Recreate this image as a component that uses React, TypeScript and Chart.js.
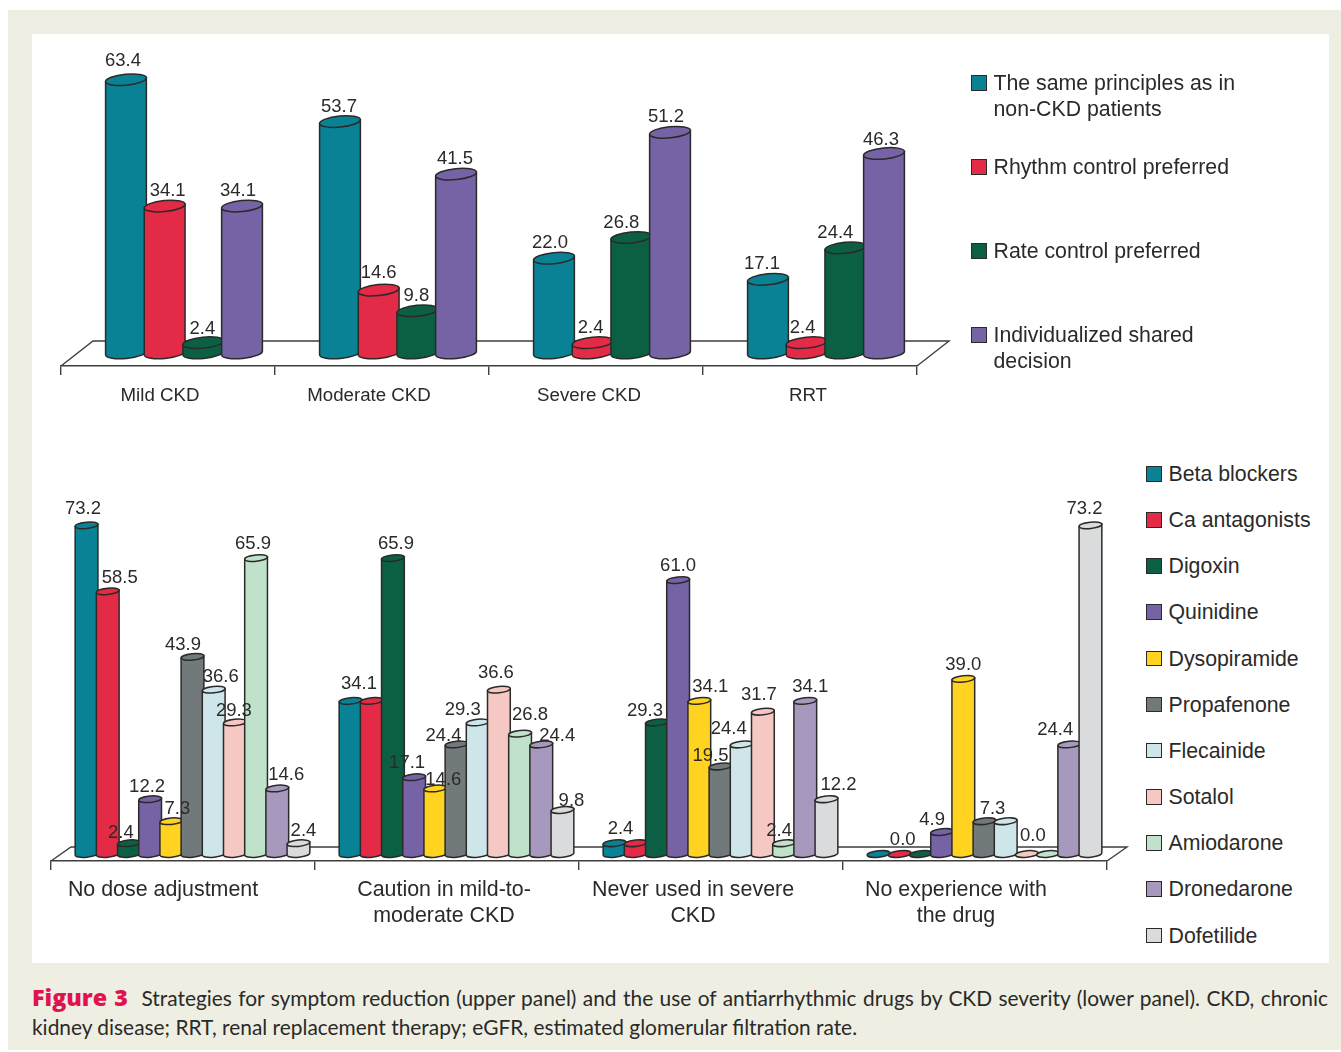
import React, { useEffect, useRef } from "react";
import { Chart, registerables } from "chart.js";

Chart.register(...registerables);

// ---- Strategies panel ----
const severityGroups = ["Mild CKD", "Moderate CKD", "Severe CKD", "RRT"];
const samePrinciples = [63.4, 53.7, 22.0, 17.1];
const rhythmControl = [34.1, 14.6, 2.4, 2.4];
const rateControl = [2.4, 9.8, 26.8, 24.4];
const sharedDecision = [34.1, 41.5, 51.2, 46.3];

// ---- Antiarrhythmic drugs panel ----
const usageGroups = ["No dose adjustment", "Caution in mild-to-moderate CKD", "Never used in severe CKD", "No experience with the drug"];
const betaBlockers = [73.2, 34.1, 2.4, 0.0];
const caAntagonists = [58.5, 34.1, 2.4, 0.0];
const digoxin = [2.4, 65.9, 29.3, 0.0];
const quinidine = [12.2, 17.1, 61.0, 4.9];
const dysopiramide = [7.3, 14.6, 34.1, 39.0];
const propafenone = [43.9, 24.4, 19.5, 7.3];
const flecainide = [36.6, 29.3, 24.4, 7.3];
const sotalol = [29.3, 36.6, 31.7, 0.0];
const amiodarone = [65.9, 26.8, 2.4, 0.0];
const dronedarone = [14.6, 24.4, 34.1, 24.4];
const dofetilide = [2.4, 9.8, 12.2, 73.2];

const TEAL = "#0a8296";
const RED = "#e32a46";
const GREEN = "#0b6044";
const PURPLE = "#7563a5";
const INK = "#2b2a29";
const TEXT_FONT = '"Liberation Sans", Arial, sans-serif';

const upperSeries = [
  { name: ["The same principles as in", "non-CKD patients"], data: samePrinciples, color: TEAL },
  { name: ["Rhythm control preferred"], data: rhythmControl, color: RED },
  { name: ["Rate control preferred"], data: rateControl, color: GREEN },
  { name: ["Individualized shared", "decision"], data: sharedDecision, color: PURPLE },
];

const lowerSeries = [
  { name: ["Beta blockers"], data: betaBlockers, color: TEAL },
  { name: ["Ca antagonists"], data: caAntagonists, color: RED },
  { name: ["Digoxin"], data: digoxin, color: GREEN },
  { name: ["Quinidine"], data: quinidine, color: PURPLE },
  { name: ["Dysopiramide"], data: dysopiramide, color: "#ffd320" },
  { name: ["Propafenone"], data: propafenone, color: "#72797b" },
  { name: ["Flecainide"], data: flecainide, color: "#cee6ea" },
  { name: ["Sotalol"], data: sotalol, color: "#f6c8c3" },
  { name: ["Amiodarone"], data: amiodarone, color: "#c0e2cb" },
  { name: ["Dronedarone"], data: dronedarone, color: "#a799bd" },
  { name: ["Dofetilide"], data: dofetilide, color: "#dadbdd" },
];

// Hand placement of the value labels relative to the top of each cylinder,
// indexed [series][group]; null leaves a label out where two would coincide.
type Nudge = [number, number] | null;
const upperNudges: Nudge[][] = [
  [[-3, -19], [-1, -15], [-4, -15], [-6, -15]],
  [[3, -15], [0, -17], [-2, -15], [-4, -15]],
  [[-1, -14], [-1, -15], [-10, -15], [-10, -15]],
  [[-4, -15], [-1, -15], [-4, -15], [-3, -14]],
];
const lowerNudges: Nudge[][] = [
  [[-3.5, -16], [8.5, -17], [6, -14], null],
  [[12, -13], null, null, [3, -14]],
  [[-8, -10], [3, -14], [-12, -12], null],
  [[-3, -12], [-7, -14], [0, -14], [-10, -12]],
  [[6, -12], [8, -9], [11, -14], [0, -14]],
  [[-9.5, -12], [-13, -9], [-10, -11], [8, -12]],
  [[7, -13], [-15, -13], [-13, -16], null],
  [[-1, -12], [-3, -17], [-4, -17], [6, -18]],
  [[-3, -14], [10, -19], [-5, -12], null],
  [[9, -14], [16, -9], [5, -14], [-14, -15]],
  [[5, -12], [9, -9], [12, -14], [-6, -16]],
];

interface PanelSpec {
  groups: string[];
  series: { name: string[]; data: number[]; color: string }[];
  nudges: Nudge[][];
  canvasWidth: number;
  canvasHeight: number;
  plotLeft: number;
  plotRight: number;
  plotTop: number;
  floorFront: number;
  baseline: number;
  pxPerUnit: number;
  floorDepthX: number;
  floorDepthY: number;
  barShift: number;
  capRadius: number;
  categoryPercentage: number;
  barPercentage: number;
  groupLabelCenters: number[];
  groupLabelLines: string[][];
  groupLabelSize: number;
  groupLabelPadding: number;
}

const upperPanel: PanelSpec = {
  groups: severityGroups,
  series: upperSeries,
  nudges: upperNudges,
  canvasWidth: 960,
  canvasHeight: 430,
  plotLeft: 61,
  plotRight: 917,
  plotTop: 40,
  floorFront: 366,
  baseline: 353,
  pxPerUnit: 4.31,
  floorDepthX: 32,
  floorDepthY: 25,
  barShift: 16,
  capRadius: 5.5,
  categoryPercentage: 0.723,
  barPercentage: 1.06,
  groupLabelCenters: [160, 369, 589, 808],
  groupLabelLines: [["Mild CKD"], ["Moderate CKD"], ["Severe CKD"], ["RRT"]],
  groupLabelSize: 18.7,
  groupLabelPadding: 8,
};

const lowerPanel: PanelSpec = {
  groups: usageGroups,
  series: lowerSeries,
  nudges: lowerNudges,
  canvasWidth: 1135,
  canvasHeight: 960,
  plotLeft: 51,
  plotRight: 1107,
  plotTop: 500,
  floorFront: 861,
  baseline: 854,
  pxPerUnit: 4.49,
  floorDepthX: 20,
  floorDepthY: 14,
  barShift: 9.5,
  capRadius: 3.2,
  categoryPercentage: 0.883,
  barPercentage: 1.08,
  groupLabelCenters: [163, 444, 693, 956],
  groupLabelLines: [["No dose adjustment"], ["Caution in mild-to-", "moderate CKD"], ["Never used in severe", "CKD"], ["No experience with", "the drug"]],
  groupLabelSize: 21.4,
  groupLabelPadding: 7,
};

const CAP_TILT = 0.1;

function drawCylinder(ctx: CanvasRenderingContext2D, x: number, top: number, base: number, width: number, ry: number, color: string) {
  const rx = width / 2;
  const dx = rx * Math.cos(CAP_TILT);
  const dy = rx * Math.sin(CAP_TILT);
  ctx.fillStyle = color;
  ctx.strokeStyle = INK;
  ctx.lineWidth = 1.5;
  if (base - top > 0.5) {
    ctx.beginPath();
    ctx.moveTo(x - dx, top + dy);
    ctx.lineTo(x - dx, base + dy);
    ctx.ellipse(x, base, rx, ry, -CAP_TILT, Math.PI, 0, true);
    ctx.lineTo(x + dx, top - dy);
    ctx.closePath();
    ctx.fill();
    ctx.stroke();
  }
  ctx.beginPath();
  ctx.ellipse(x, top, rx, ry, -CAP_TILT, 0, Math.PI * 2);
  ctx.fill();
  ctx.stroke();
}

// Replaces the stock bar rendering: paints the floor, then cylinders left to
// right so every bar overlaps its left neighbour, then the value labels.
function cylinderPlugin(spec: PanelSpec) {
  return {
    id: "cylinders",
    beforeDatasetsDraw(chart: any) {
      const ctx: CanvasRenderingContext2D = chart.ctx;
      const { left, right, bottom } = chart.chartArea;
      ctx.save();
      ctx.strokeStyle = "#3f3e3d";
      ctx.lineWidth = 1.4;
      ctx.beginPath();
      ctx.moveTo(left, bottom);
      ctx.lineTo(left + spec.floorDepthX, bottom - spec.floorDepthY);
      ctx.lineTo(right + spec.floorDepthX, bottom - spec.floorDepthY);
      ctx.lineTo(right, bottom);
      ctx.stroke();

      spec.groups.forEach((_, g) => {
        spec.series.forEach((s, i) => {
          const bar = chart.getDatasetMeta(i).data[g];
          drawCylinder(ctx, bar.x + spec.barShift, bar.y, bar.base, bar.width, spec.capRadius, s.color);
        });
      });

      ctx.fillStyle = INK;
      ctx.font = `18.5px ${TEXT_FONT}`;
      ctx.textAlign = "center";
      ctx.textBaseline = "middle";
      spec.groups.forEach((_, g) => {
        spec.series.forEach((s, i) => {
          const nudge = spec.nudges[i][g];
          if (!nudge) return;
          const bar = chart.getDatasetMeta(i).data[g];
          ctx.fillText(s.data[g].toFixed(1), bar.x + spec.barShift + nudge[0], bar.y + nudge[1]);
        });
      });
      ctx.restore();
      return false;
    },
  };
}

function buildChart(canvas: HTMLCanvasElement, spec: PanelSpec) {
  const yMin = -(spec.floorFront - spec.baseline) / spec.pxPerUnit;
  const yMax = (spec.baseline - spec.plotTop) / spec.pxPerUnit;
  const tickHeight = 9;
  const labelAxisHeight = spec.canvasHeight - spec.floorFront - tickHeight;
  return new Chart(canvas, {
    type: "bar",
    data: {
      labels: spec.groups,
      datasets: spec.series.map((s) => ({
        label: s.name.join(" "),
        data: s.data,
        backgroundColor: s.color,
        categoryPercentage: spec.categoryPercentage,
        barPercentage: spec.barPercentage,
      })),
    },
    plugins: [cylinderPlugin(spec)],
    options: {
      responsive: false,
      animation: false,
      layout: {
        padding: {
          left: spec.plotLeft,
          right: spec.canvasWidth - spec.plotRight,
          top: spec.plotTop,
          bottom: 0,
        },
      },
      plugins: { legend: { display: false }, tooltip: { enabled: false }, title: { display: false } },
      scales: {
        x: {
          type: "category",
          position: "bottom",
          weight: 0,
          offset: true,
          ticks: { display: false },
          border: { display: true, color: "#3f3e3d", width: 1.4 },
          grid: { offset: true, drawOnChartArea: false, drawTicks: true, tickLength: tickHeight, color: "#3f3e3d", lineWidth: 1.4 },
          afterFit(scale: any) {
            scale.height = tickHeight;
          },
        },
        // Group captions sit where the axis text belongs rather than under the
        // cylinders, so they get their own pixel-valued linear axis.
        groupLabels: {
          type: "linear",
          axis: "x",
          position: "bottom",
          weight: 1,
          offset: false,
          bounds: "data",
          min: spec.plotLeft,
          max: spec.plotRight,
          border: { display: false },
          grid: { display: false, drawTicks: false, offset: false },
          ticks: {
            autoSkip: false,
            maxRotation: 0,
            minRotation: 0,
            color: INK,
            padding: spec.groupLabelPadding,
            font: { family: TEXT_FONT, size: spec.groupLabelSize, lineHeight: 26 / spec.groupLabelSize },
            callback(value: number) {
              return spec.groupLabelLines[spec.groupLabelCenters.indexOf(value)];
            },
          },
          afterBuildTicks(scale: any) {
            scale.ticks = spec.groupLabelCenters.map((value) => ({ value }));
          },
          afterFit(scale: any) {
            scale.height = labelAxisHeight;
            scale.paddingLeft = 0;
            scale.paddingRight = 0;
          },
        },
        y: { type: "linear", display: false, min: yMin, max: yMax, grid: { display: false } },
      },
    } as any,
  });
}

function Panel({ spec }: { spec: PanelSpec }) {
  const ref = useRef<HTMLCanvasElement>(null);
  useEffect(() => {
    const chart = buildChart(ref.current as HTMLCanvasElement, spec);
    return () => chart.destroy();
  }, [spec]);
  return (
    <canvas
      ref={ref}
      width={spec.canvasWidth}
      height={spec.canvasHeight}
      style={{ position: "absolute", left: 0, top: 0, width: spec.canvasWidth, height: spec.canvasHeight }}
    />
  );
}

function Legend({ series, x, firstCenter, step, fontSize, lineHeight }: {
  series: PanelSpec["series"]; x: number; firstCenter: number; step: number; fontSize: number; lineHeight: number;
}) {
  return (
    <>
      {series.map((s, i) => {
        const cy = firstCenter + i * step;
        return (
          <div key={s.name[0]}>
            <div
              style={{
                position: "absolute",
                left: x,
                top: cy - 8,
                width: 13.5,
                height: 13.5,
                background: s.color,
                border: `1.5px solid ${INK}`,
              }}
            />
            {s.name.map((line, k) => (
              <div
                key={line}
                style={{
                  position: "absolute",
                  left: x + 22.5,
                  top: cy - lineHeight / 2 + k * lineHeight,
                  height: lineHeight,
                  lineHeight: `${lineHeight}px`,
                  fontFamily: TEXT_FONT,
                  fontSize,
                  color: INK,
                  whiteSpace: "nowrap",
                }}
              >
                {line}
              </div>
            ))}
          </div>
        );
      })}
    </>
  );
}

export default function App() {
  const captionLine: React.CSSProperties = {
    position: "absolute",
    left: 32,
    width: 1296,
    fontFamily: 'Lato, "Open Sans", sans-serif',
    fontSize: 20.9,
    lineHeight: "29px",
    color: "#2a2a28",
    whiteSpace: "nowrap",
  };
  return (
    <div style={{ position: "absolute", left: 0, top: 0, width: 1341, height: 1052, background: "#fff", overflow: "hidden" }}>
      <div style={{ position: "absolute", left: 8, top: 10, width: 1333, height: 1040, background: "#eeeee3" }} />
      <div style={{ position: "absolute", left: 32, top: 34, width: 1297, height: 929, background: "#fff" }} />
      <Panel spec={lowerPanel} />
      <Panel spec={upperPanel} />
      <Legend series={upperSeries} x={971} firstCenter={83} step={84} fontSize={21.3} lineHeight={26} />
      <Legend series={lowerSeries} x={1146} firstCenter={474} step={46.15} fontSize={21.3} lineHeight={26} />
      <div style={{ ...captionLine, top: 983, whiteSpace: "normal", textAlign: "justify", textAlignLast: "justify" }}>
        <span style={{ fontFamily: '"Open Sans", sans-serif', fontWeight: 800, fontSize: 23.3, color: "#e0134f", marginRight: 7 }}>Figure 3</span>
        {" Strategies for symptom reduction (upper panel) and the use of antiarrhythmic drugs by CKD severity (lower panel). CKD, chronic"}
      </div>
      <div style={{ ...captionLine, top: 1012 }}>
        kidney disease; RRT, renal replacement therapy; eGFR, estimated glomerular filtration rate.
      </div>
    </div>
  );
}
